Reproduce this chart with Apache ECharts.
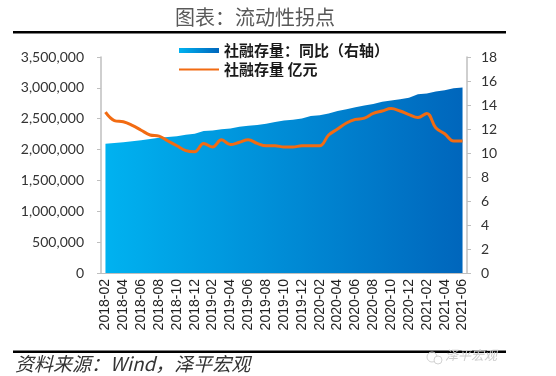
<!DOCTYPE html>
<html>
<head>
<meta charset="utf-8">
<script src="https://cdn.jsdelivr.net/npm/echarts@6/dist/echarts.min.js"></script>
<style>
  html, body { margin: 0; padding: 0; background: #fff; }
  #chart { width: 556px; height: 376px; }
</style>
</head>
<body>
<div id="chart"></div>
<script>
;(function () {

    'use strict';

    // months, 2018-02 .. 2021-06
    var months = [
        '2018-02', '2018-03', '2018-04', '2018-05', '2018-06', '2018-07', '2018-08', '2018-09', '2018-10', '2018-11', '2018-12',
        '2019-01', '2019-02', '2019-03', '2019-04', '2019-05', '2019-06', '2019-07', '2019-08', '2019-09', '2019-10', '2019-11', '2019-12',
        '2020-01', '2020-02', '2020-03', '2020-04', '2020-05', '2020-06', '2020-07', '2020-08', '2020-09', '2020-10', '2020-11', '2020-12',
        '2021-01', '2021-02', '2021-03', '2021-04', '2021-05', '2021-06'
    ];

    // stock, 亿元 (left axis, drawn as the area)
    var stockValues = [
        2095000, 2105000, 2120000, 2135000, 2150000, 2170000, 2190000, 2205000, 2215000, 2240000, 2255000,
        2300000, 2310000, 2330000, 2340000, 2370000, 2385000, 2400000, 2420000, 2445000, 2470000, 2485000, 2505000,
        2545000, 2555000, 2585000, 2625000, 2655000, 2685000, 2715000, 2740000, 2775000, 2795000, 2815000, 2840000,
        2895000, 2910000, 2940000, 2960000, 2995000, 3005000
    ];

    // yoy, % (right axis, drawn as the orange line)
    var yoyValues = [
        13.4, 12.7, 12.6, 12.3, 11.9, 11.5, 11.4, 11.0, 10.6, 10.2, 10.1,
        10.8, 10.5, 11.1, 10.7, 10.9, 11.1, 10.8, 10.6, 10.6, 10.5, 10.5, 10.6,
        10.6, 10.6, 11.5, 12.0, 12.5, 12.8, 12.9, 13.3, 13.5, 13.7, 13.5, 13.2,
        12.95, 13.3, 12.1, 11.6, 11.0, 11.0
    ];

    var areaName = '社融存量：同比（右轴）';
    var lineName = '社融存量 亿元';

    var leftTicks = { min: 0, max: 3500000, step: 500000 };
    var rightTicks = { min: 0, max: 18, step: 2 };

    var cjk = '"Noto Sans CJK SC", sans-serif';

    var buildChart = function () {
        var myChart = echarts.init(document.getElementById('chart'), null, { renderer: 'canvas' });

        var blueFill = new echarts.graphic.LinearGradient(0, 0, 1, 0, [
            { offset: 0, color: '#00B2F0' },
            { offset: 1, color: '#0066BC' }
        ]);

        var axisGrey = '#bfbfbf';

        var option = {
            backgroundColor: '#fff',
            animation: false,
            grid: { left: 101, right: 89, top: 57, bottom: 103 },
            legend: {
                orient: 'vertical',
                left: 173,
                top: 38,
                itemWidth: 40,
                itemHeight: 5,
                itemGap: 4,
                textStyle: { fontFamily: cjk, fontSize: 15, fontWeight: 'bold', color: '#1a1a1a' },
                data: [
                    { name: areaName, icon: 'rect' },
                    { name: lineName, itemStyle: { opacity: 0 } }
                ]
            },
            xAxis: {
                type: 'category',
                data: months,
                boundaryGap: true,
                axisLine: { lineStyle: { color: axisGrey, width: 1 } },
                axisTick: { interval: 1, length: 4, lineStyle: { color: axisGrey } },
                axisLabel: {
                    interval: 1,
                    rotate: 90,
                    margin: 6,
                    fontFamily: '"Liberation Sans", Arial, sans-serif',
                    fontSize: 14,
                    color: '#222'
                }
            },
            yAxis: [
                {
                    type: 'value',
                    min: leftTicks.min,
                    max: leftTicks.max,
                    interval: leftTicks.step,
                    splitLine: { show: false },
                    axisLine: { show: true, lineStyle: { color: axisGrey, width: 1.5 } },
                    axisTick: { show: true, length: 4, lineStyle: { color: axisGrey } },
                    axisLabel: {
                        margin: 17,
                        fontFamily: 'Lato, sans-serif',
                        fontSize: 14,
                        color: '#333',
                        formatter: function (v) { return v.toLocaleString('en-US'); }
                    }
                },
                {
                    type: 'value',
                    position: 'right',
                    min: rightTicks.min,
                    max: rightTicks.max,
                    interval: rightTicks.step,
                    splitLine: { show: false },
                    axisLine: { show: true, lineStyle: { color: axisGrey, width: 1.5 } },
                    axisTick: { show: true, length: 4, lineStyle: { color: axisGrey } },
                    axisLabel: {
                        margin: 14,
                        fontFamily: 'Lato, sans-serif',
                        fontSize: 14,
                        color: '#333'
                    }
                }
            ],
            series: [
                {
                    name: areaName,
                    type: 'line',
                    yAxisIndex: 0,
                    data: stockValues,
                    symbol: 'none',
                    lineStyle: { width: 0 },
                    itemStyle: { color: blueFill },
                    areaStyle: { color: blueFill, opacity: 1 },
                    z: 1
                },
                {
                    name: lineName,
                    type: 'line',
                    yAxisIndex: 1,
                    data: yoyValues,
                    symbol: 'none',
                    smooth: 0.4,
                    lineStyle: { color: '#F26B12', width: 3 },
                    itemStyle: { color: '#F26B12' },
                    z: 3
                }
            ],
            graphic: [
                {
                    type: 'text',
                    left: 259 - 84,
                    top: 7,
                    style: { text: '图表：流动性拐点', font: '20px ' + cjk, fill: '#595959' }
                },
                {
                    type: 'rect',
                    shape: { x: 13, y: 31, width: 493, height: 2.5 },
                    style: { fill: '#000' }
                },
                {
                    type: 'rect',
                    shape: { x: 13, y: 350.5, width: 493, height: 2.5 },
                    style: { fill: '#000' }
                },
                {
                    type: 'text',
                    left: 15,
                    top: 354,
                    style: { text: '资料来源：Wind，泽平宏观', font: 'italic 19px ' + cjk, fill: '#333' }
                },
                {
                    type: 'circle',
                    shape: { cx: 432, cy: 357, r: 5 },
                    style: { fill: 'none', stroke: '#d2d2d2', lineWidth: 1 }
                },
                {
                    type: 'circle',
                    shape: { cx: 438, cy: 360, r: 4 },
                    style: { fill: '#fff', stroke: '#d2d2d2', lineWidth: 1 }
                },
                {
                    type: 'text',
                    left: 445,
                    top: 349,
                    style: { text: '泽平宏观', font: 'italic 13px ' + cjk, fill: '#cccccc' }
                }
            ]
        };
        myChart.setOption(option);
    };

    buildChart();

}());
</script>
</body>
</html>
